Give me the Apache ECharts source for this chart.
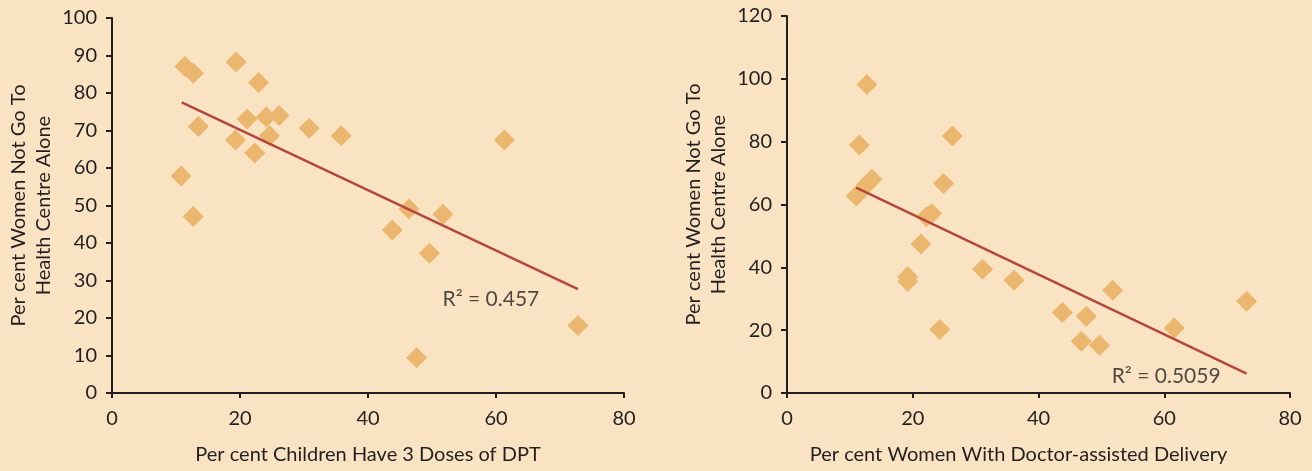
<!DOCTYPE html>
<html>
<head>
<meta charset="utf-8">
<script src="https://cdn.jsdelivr.net/npm/echarts@6/dist/echarts.min.js"></script>
<style>
  html, body { margin: 0; padding: 0; background: #f9e3c3; }
  #chart { width: 1312px; height: 471px; }
</style>
</head>
<body>
<div id="chart"></div>
<script>
// left panel: DPT coverage vs women not going alone
var dptX = [11.4, 12.7, 19.4, 22.9, 13.5, 21.1, 24.1, 26.1, 30.8, 24.6, 19.3, 22.3, 10.8, 12.7, 35.8, 43.8, 46.4, 61.3, 51.7, 49.6, 72.8, 47.6];
var dptY = [87.1, 85.3, 88.3, 82.8, 71.1, 73.1, 73.6, 74.0, 70.6, 68.6, 67.5, 64.0, 57.9, 47.1, 68.6, 43.5, 49.1, 67.5, 47.7, 37.3, 18.0, 9.4];
var dptTrend = [[10.9, 77.5], [72.8, 27.7]];
var dptR2 = [59.2, 24.9];

// right panel: doctor-assisted delivery vs women not going alone
var docX = [12.7, 11.5, 13.5, 12.6, 11.0, 26.3, 24.9, 23.0, 22.2, 21.3, 19.2, 19.2, 31.1, 36.1, 24.3, 43.8, 47.6, 46.8, 49.7, 51.8, 61.6, 73.1];
var docY = [98.2, 78.9, 68.0, 66.2, 62.7, 81.8, 66.7, 57.1, 56.1, 47.4, 37.0, 35.6, 39.4, 35.9, 20.2, 25.6, 24.4, 16.5, 15.2, 32.7, 20.7, 29.2];
var docTrend = [[11.0, 65.4], [73.1, 6.2]];
var docR2 = [60.3, 5.3];

var yTitle = 'Per cent Women Not Go To\nHealth Centre Alone';
var xTitles = ['Per cent Children Have 3 Doses of DPT', 'Per cent Women With Doctor-assisted Delivery'];

var ink = '#231f20';
var font = 'Lato';

function pairs(xs, ys) {
  var out = [];
  for (var i = 0; i < xs.length; i++) {
    out.push([xs[i], ys[i]]);
  }
  return out;
}

function xAxisFor(idx, pad) {
  return {
    type: 'value', gridIndex: idx, min: 0, max: 80, interval: 20,
    name: xTitles[idx], nameLocation: 'middle', nameGap: 52,
    nameTextStyle: { color: ink, fontSize: 20, fontFamily: font, padding: pad },
    axisLine: { lineStyle: { color: ink, width: 2 } },
    axisTick: { length: 5, lineStyle: { color: ink, width: 2 } },
    axisLabel: { color: ink, fontSize: 20, fontFamily: font, margin: 16 },
    splitLine: { show: false }
  };
}

function yAxisFor(idx, max, step) {
  return {
    type: 'value', gridIndex: idx, min: 0, max: max, interval: step,
    name: yTitle, nameLocation: 'middle', nameGap: 56,
    nameTextStyle: { color: ink, fontSize: 20, fontFamily: font, lineHeight: 25 },
    axisLine: { show: true, lineStyle: { color: ink, width: 2 } },
    axisTick: { show: true, length: 6, lineStyle: { color: ink, width: 2 } },
    axisLabel: { color: ink, fontSize: 20, fontFamily: font, margin: 15 },
    splitLine: { show: false }
  };
}

function pointSeries(idx, xs, ys) {
  return {
    type: 'scatter', xAxisIndex: idx, yAxisIndex: idx,
    symbol: 'diamond', symbolSize: 21,
    itemStyle: { color: '#ebb66e', opacity: 1 },
    data: pairs(xs, ys)
  };
}

function trendSeries(idx, pts) {
  return {
    type: 'line', xAxisIndex: idx, yAxisIndex: idx,
    symbol: 'none', lineStyle: { color: '#b5473a', width: 2.5 },
    data: pts
  };
}

function r2Series(idx, pos, txt) {
  return {
    type: 'scatter', xAxisIndex: idx, yAxisIndex: idx,
    symbolSize: 0, silent: true,
    label: {
      show: true, position: 'inside', formatter: txt,
      color: ink, fontSize: 21, fontFamily: font
    },
    data: [pos]
  };
}

var myChart = echarts.init(document.getElementById('chart'));
myChart.setOption({
  backgroundColor: '#f9e3c3',
  animation: false,
  grid: [
    { left: 112, top: 18, width: 512, height: 375 },
    { left: 787, top: 16, width: 503, height: 377 }
  ],
  xAxis: [xAxisFor(0, [0, 0, 0, 0]), xAxisFor(1, [0, 40, 0, 0])],
  yAxis: [yAxisFor(0, 100, 10), yAxisFor(1, 120, 20)],
  series: [
    pointSeries(0, dptX, dptY),
    trendSeries(0, dptTrend),
    r2Series(0, dptR2, 'R² = 0.457'),
    pointSeries(1, docX, docY),
    trendSeries(1, docTrend),
    r2Series(1, docR2, 'R² = 0.5059')
  ]
});
</script>
</body>
</html>
